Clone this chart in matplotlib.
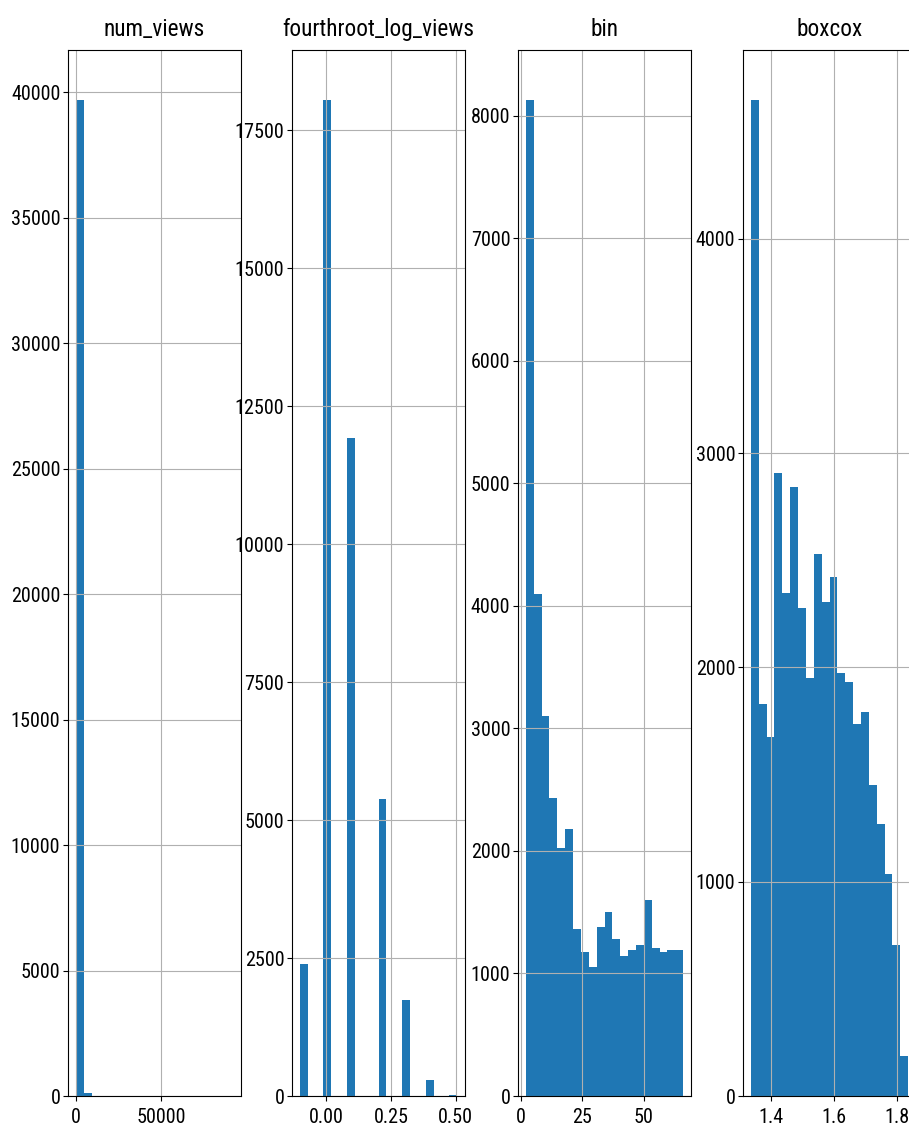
"""
Histograms of the number of views and of its transformed versions,
one panel per column, 20 bins each.
"""

import numpy as np
import matplotlib
matplotlib.use("Agg")
import matplotlib.pyplot as plt
from matplotlib import font_manager
from matplotlib.textpath import TextPath
from matplotlib.ticker import MultipleLocator, FormatStrFormatter

titles = ["num_views", "fourthroot_log_views", "bin", "boxcox"]

# (min, max) of every column, the 20 bins span this range
num_views_range = (0, 92000)
fourthroot_range = (-0.1015, 0.505)
bin_range = (2, 66)
boxcox_range = (1.3365, 1.834)

# counts per bin
num_views_counts = [39700, 110, 0, 0, 0, 0, 0, 0, 0, 0,
                    0, 0, 0, 0, 0, 0, 0, 0, 0, 1]
fourthroot_counts = [2400, 0, 0, 18050, 0, 0, 11920, 0, 0, 0,
                     5380, 0, 0, 1740, 0, 0, 290, 0, 0, 10]
bin_counts = [8130, 4100, 3104, 2429, 2023, 2178, 1362, 1174, 1049, 1378,
              1504, 1283, 1144, 1190, 1234, 1598, 1207, 1174, 1190, 1190]
boxcox_counts = [4648, 1827, 1676, 2907, 2349, 2841, 2276, 1952, 2528, 2304,
                 2421, 1972, 1933, 1737, 1792, 1450, 1271, 1037, 703, 186]

x_ticks = [[0, 50000], [0.0, 0.25, 0.5], [0, 25, 50], [1.4, 1.6, 1.8]]
x_formats = ["%d", "%.2f", "%d", "%.1f"]
y_steps = [5000, 2500, 1000, 1000]


def narrow_font():
    """
    Looks for an installed condensed/narrow sans font, returns its file or None.
    """
    found = []
    for f in font_manager.fontManager.ttflist:
        name = f.name.lower()
        fname = f.fname.lower()
        if f.style != "normal" or f.weight not in (400, "normal", "regular"):
            continue
        if "bold" in fname or "oblique" in fname or "italic" in fname:
            continue
        if ("condensed" in fname or "narrow" in fname or "condensed" in name
                or "narrow" in name or f.stretch in ("condensed", "semi-condensed")):
            found.append(f)
    for key in ["liberation", "roboto", "open", "noto", "dejavu"]:
        for f in found:
            if key in f.name.lower():
                return f.fname
    return found[0].fname if found else None


def fitted_font(text, target_px):
    """
    Returns font properties whose size makes text about target_px wide.
    """
    font_file = narrow_font()
    if font_file:
        prop = font_manager.FontProperties(fname=font_file, size=10)
    else:
        prop = font_manager.FontProperties(family="DejaVu Sans", size=10)
    w = TextPath((0, 0), text, prop=prop).get_extents().width  # points at 10pt
    size = 10 * target_px / (w * 100 / 72)
    prop.set_size(size)
    return prop


tick_font = fitted_font("40000", 48)
title_font = fitted_font("fourthroot_log_views", 190)


def plot_hist(ax, counts, value_range, title, xticks, xfmt, ystep):
    """
    Draws one histogram panel given the bin counts and the range of values.
    """
    edges = np.linspace(value_range[0], value_range[1], len(counts) + 1)
    ax.hist(edges[:-1], bins=edges, weights=counts, color="#1f77b4")
    ax.set_title(title, fontproperties=title_font, pad=10)
    ax.grid(True)
    ax.set_xticks(xticks)
    ax.xaxis.set_major_formatter(FormatStrFormatter(xfmt))
    ax.yaxis.set_major_locator(MultipleLocator(ystep))
    ax.tick_params(axis="y", pad=2)
    ax.tick_params(axis="x", pad=5)
    for lab in ax.get_xticklabels() + ax.get_yticklabels():
        lab.set_fontproperties(tick_font)


fig = plt.figure(figsize=(9.09, 11.36), dpi=100)

lefts = [68, 292, 518, 743]
width = 173
bottom = 1136 - 1096
height = 1096 - 50

ranges = [num_views_range, fourthroot_range, bin_range, boxcox_range]
counts = [num_views_counts, fourthroot_counts, bin_counts, boxcox_counts]

for i in range(4):
    ax = fig.add_axes([lefts[i] / 909, bottom / 1136, width / 909, height / 1136])
    plot_hist(ax, counts[i], ranges[i], titles[i],
              x_ticks[i], x_formats[i], y_steps[i])

fig.savefig("out.png", dpi=100)
